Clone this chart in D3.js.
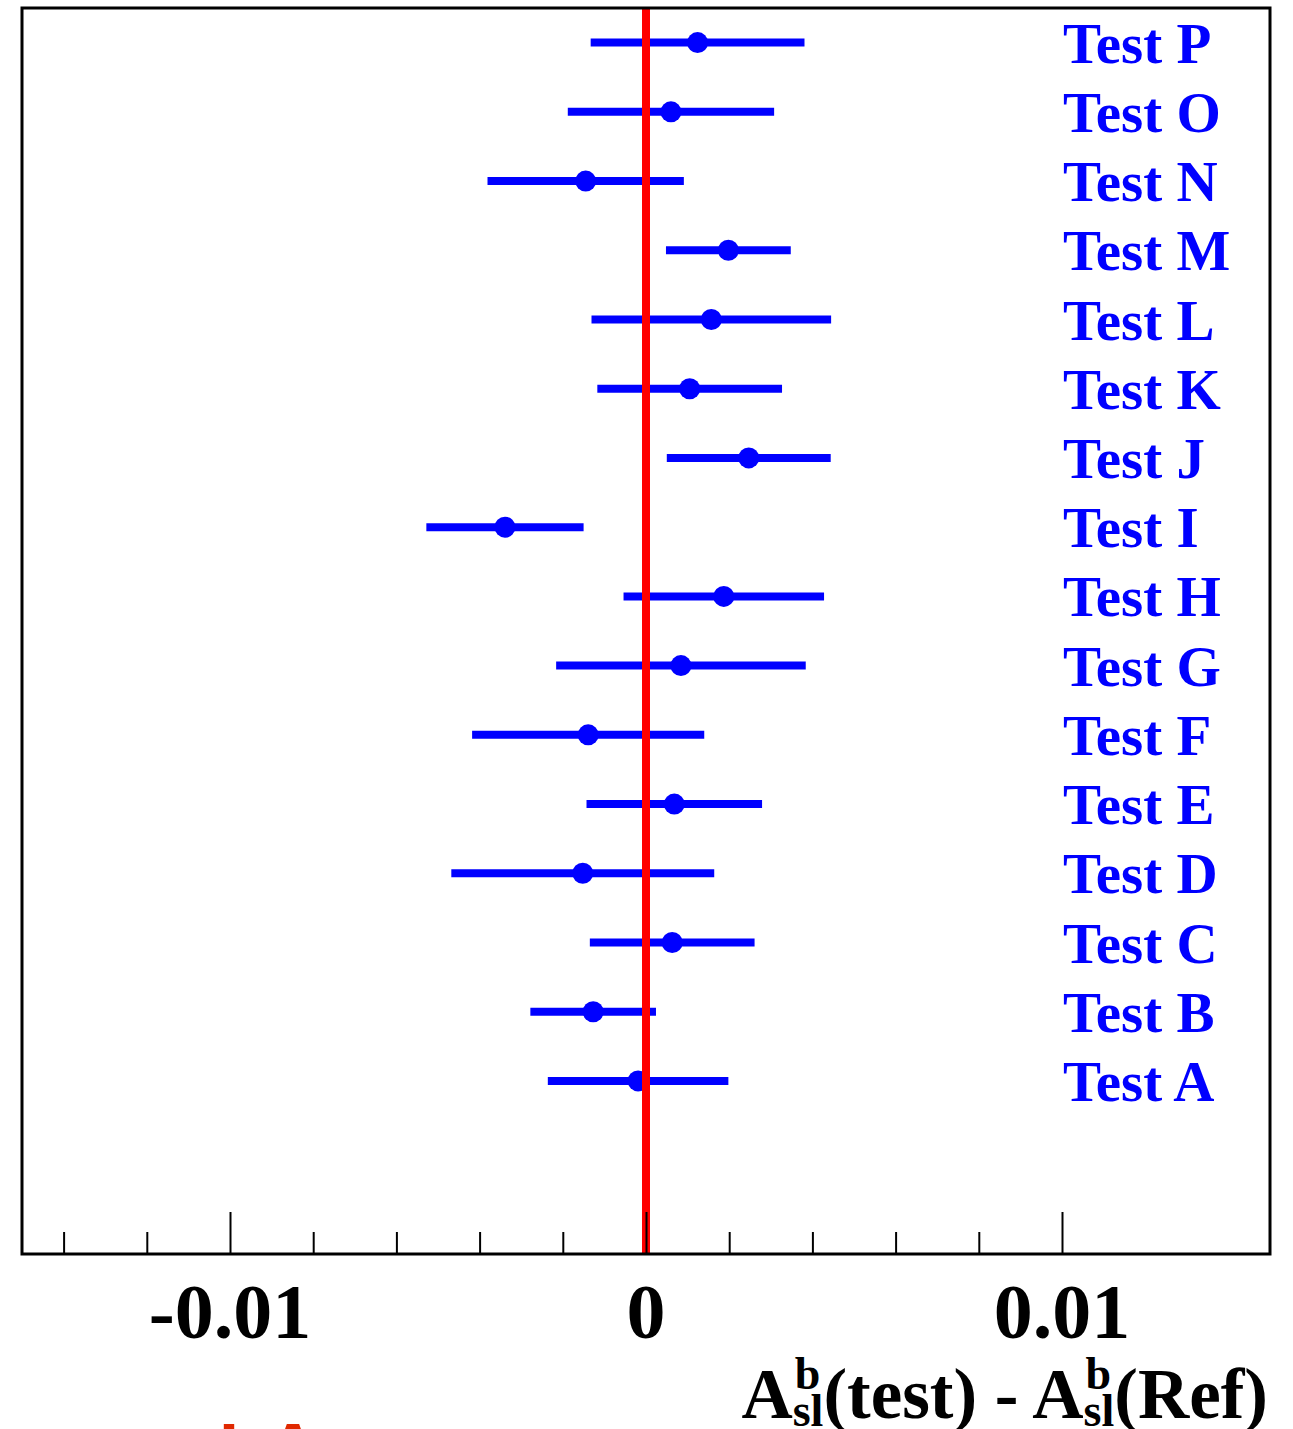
<!DOCTYPE html>
<html>
<head>
<meta charset="utf-8">
<script src="https://cdn.jsdelivr.net/npm/d3@7"></script>
<style>
  html, body { margin: 0; padding: 0; background: #fff; }
  svg { display: block; }
</style>
</head>
<body>
<svg id="chart" width="1293" height="1429"></svg>
<script>
// ---- data ----
const categories = ["Test A","Test B","Test C","Test D","Test E","Test F","Test G","Test H",
                    "Test I","Test J","Test K","Test L","Test M","Test N","Test O","Test P"];
const values = [-0.00019, -0.00127, 0.00063, -0.00152, 0.00068, -0.00139, 0.00084, 0.00187,
                -0.00339, 0.00247, 0.00105, 0.00157, 0.00198, -0.00145, 0.00060, 0.00124];
const errors = [0.00217, 0.00151, 0.00198, 0.00316, 0.00211, 0.00279, 0.00300, 0.00241,
                0.00189, 0.00197, 0.00222, 0.00288, 0.00150, 0.00236, 0.00248, 0.00257];
const minorTickValues = [-0.014, -0.012, -0.008, -0.006, -0.004, -0.002, 0.002, 0.004, 0.006, 0.008];
const majorTickValues = [-0.01, 0, 0.01];
const tickLabels = ["-0.01", "0", "0.01"];
const referenceValue = 0;

// ---- layout ----
const frame = {left: 22, right: 1270, top: 8, bottom: 1254};
const serif = "'Liberation Serif', 'Times New Roman', Times, serif";

const svg = d3.select("#chart");
const x = d3.scaleLinear().domain([-0.015, 0.015]).range([frame.left, frame.right]);
const y = d3.scaleLinear().domain([0, 18]).range([frame.bottom, frame.top]);
const rowPos = i => y(i + 2.5);

// error bars
svg.append("g").selectAll("line").data(values).join("line")
  .attr("x1", (d, i) => x(d - errors[i]))
  .attr("x2", (d, i) => x(d + errors[i]))
  .attr("y1", (d, i) => rowPos(i))
  .attr("y2", (d, i) => rowPos(i))
  .attr("stroke", "#0000ff")
  .attr("stroke-width", 8);

// points
svg.append("g").selectAll("circle").data(values).join("circle")
  .attr("cx", d => x(d))
  .attr("cy", (d, i) => rowPos(i))
  .attr("r", 10.5)
  .attr("fill", "#0000ff");

// labels
svg.append("g").selectAll("text").data(categories).join("text")
  .attr("x", 1063)
  .attr("y", (d, i) => rowPos(i) + 20)
  .attr("font-family", serif)
  .attr("font-weight", "bold")
  .attr("font-size", 57)
  .attr("fill", "#0000ff")
  .text(d => d);

// reference line
svg.append("line")
  .attr("x1", x(referenceValue)).attr("x2", x(referenceValue))
  .attr("y1", frame.top).attr("y2", frame.bottom)
  .attr("stroke", "#ff0000")
  .attr("stroke-width", 8);

// ticks (pointing inward/up)
const minorAxis = d3.axisTop(x).tickValues(minorTickValues).tickSize(22).tickFormat("");
const majorAxis = d3.axisTop(x).tickValues(majorTickValues).tickSize(42).tickFormat("");
[minorAxis, majorAxis].forEach(ax => {
  const g = svg.append("g").attr("transform", `translate(0,${frame.bottom})`).call(ax);
  g.select(".domain").remove();
  g.selectAll(".tick line").attr("stroke", "#000").attr("stroke-width", 2);
});

// frame
svg.append("rect")
  .attr("x", frame.left).attr("y", frame.top)
  .attr("width", frame.right - frame.left).attr("height", frame.bottom - frame.top)
  .attr("fill", "none").attr("stroke", "#000").attr("stroke-width", 3);

// tick labels
svg.append("g").selectAll("text").data(majorTickValues).join("text")
  .attr("x", d => x(d))
  .attr("y", 1338)
  .attr("text-anchor", "middle")
  .attr("font-family", serif)
  .attr("font-weight", "bold")
  .attr("font-size", 78)
  .attr("fill", "#000")
  .text((d, i) => tickLabels[i]);

// axis title: A^b_sl(test) - A^b_sl(Ref)
const titlePieces = [
  {text: "A"}, {sup: "b", sub: "sl"}, {text: "(test) - A"}, {sup: "b", sub: "sl"}, {text: "(Ref)"}
];
const mainSize = 71, smallSize = 46;
const baseY = 1418, supY = 1389, subY = 1426;
const tg = svg.append("g");
function measure(str, size) {
  const t = tg.append("text").attr("font-family", serif).attr("font-weight", "bold")
    .attr("font-size", size).text(str);
  const w = t.node().getComputedTextLength();
  t.remove();
  return w;
}
const widths = titlePieces.map(p => p.text !== undefined ? measure(p.text, mainSize)
  : Math.max(measure(p.sup, smallSize), measure(p.sub, smallSize)));
const total = d3.sum(widths);
let cx = 1268 - total;
titlePieces.forEach((p, i) => {
  if (p.text !== undefined) {
    tg.append("text").attr("x", cx).attr("y", baseY)
      .attr("font-family", serif).attr("font-weight", "bold").attr("font-size", mainSize)
      .attr("fill", "#000").text(p.text);
  } else {
    tg.append("text").attr("x", cx + 2).attr("y", supY)
      .attr("font-family", serif).attr("font-weight", "bold").attr("font-size", smallSize)
      .attr("fill", "#000").text(p.sup);
    tg.append("text").attr("x", cx).attr("y", subY)
      .attr("font-family", serif).attr("font-weight", "bold").attr("font-size", smallSize)
      .attr("fill", "#000").text(p.sub);
  }
  cx += widths[i];
});

// partially visible red text at the bottom edge
svg.append("text").attr("x", 229).attr("y", 1474).attr("text-anchor", "middle")
  .attr("font-family", "'Liberation Sans', Arial, sans-serif").attr("font-weight", "bold")
  .attr("font-size", 72).attr("fill", "#e02800").text("I");
svg.append("text").attr("x", 293).attr("y", 1474).attr("text-anchor", "middle")
  .attr("font-family", "'Liberation Sans', Arial, sans-serif").attr("font-weight", "bold")
  .attr("font-size", 72).attr("fill", "#e02800").text("A");
</script>
</body>
</html>
